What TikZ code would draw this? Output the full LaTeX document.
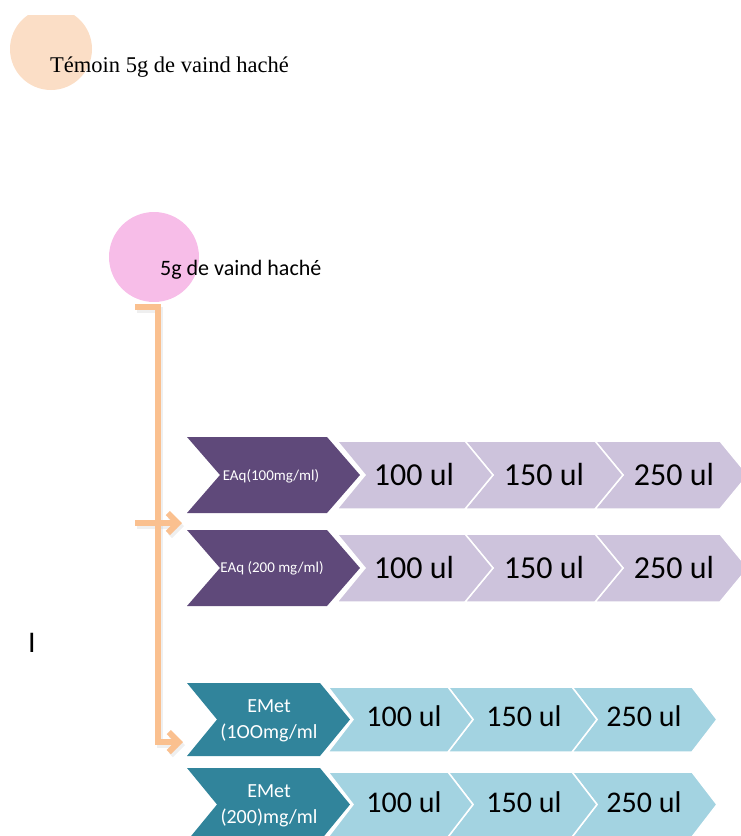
\documentclass[tikz,border=0pt]{standalone}
\usepackage{fontspec}
\setmainfont{Liberation Serif}
\newfontfamily\calfont{Carlito}
\usetikzlibrary{arrows.meta}
\definecolor{peach}{HTML}{FBDEC6}
\definecolor{pinkc}{HTML}{F7BDE8}
\definecolor{conncol}{HTML}{FAC08F}
\definecolor{purpdark}{HTML}{5F497A}
\definecolor{purplight}{HTML}{CDC3DC}
\definecolor{tealdark}{HTML}{31849B}
\definecolor{teallight}{HTML}{A3D3E1}
\newcommand{\chev}[6]{\filldraw[#6] (#1,#2-#4) -- ++(#3,0) -- ++(#5,#4) -- ++(-#5,#4) -- ++(-#3,0) -- ++(#5,-#4) -- cycle;}
\tikzset{
  lightp/.style={fill=purplight,draw=white,line width=1.5pt,line join=miter},
  lightt/.style={fill=teallight,draw=white,line width=1.5pt,line join=miter},
  darkp/.style={fill=purpdark,draw=none},
  darkt/.style={fill=tealdark,draw=none},
  bigp/.style={font=\calfont\fontsize{32}{36}\selectfont,inner sep=0pt,text=black},
  bigt/.style={font=\calfont\fontsize{30}{34}\selectfont,inner sep=0pt,text=black},
  smallp/.style={font=\calfont\fontsize{15}{17}\selectfont,text=white,inner sep=0pt},
  smallt/.style={font=\calfont\fontsize{20}{26}\selectfont,text=white,inner sep=0pt,align=center},
  conn/.style={draw=conncol,line width=6pt,line join=miter},
  connshadow/.style={draw=black!25,line width=6pt,line join=miter,opacity=0.25},
  tip/.style={-{Straight Barb[length=10pt,width=20pt]}}
}
\begin{document}
\begin{tikzpicture}[x=1pt,y=-1pt]
\useasboundingbox (0,0) rectangle (741,836);
% top circle
\begin{scope}
\clip (0,15) rectangle (200,100);
\fill[peach] (51,49) circle (41);
\end{scope}
\node[anchor=base west,inner sep=0pt,font=\fontsize{22.5}{27}\selectfont] (temoin) at (50,72) {Témoin 5g de vaind haché};
% pink circle
\fill[pinkc] (154,257) circle (45);
\node[anchor=base west,inner sep=0pt,font=\calfont\fontsize{22}{26}\selectfont] (sample) at (160,275) {5g de vaind haché};
% connectors
\coordinate (c0) at (135,307);
\coordinate (cv) at (158,307);
\coordinate (ce) at (183,742);
\coordinate (m0) at (135,523);
\coordinate (m1) at (182,523);
\draw[connshadow,tip] ([shift={(2,3)}]c0) -- ([shift={(2,3)}]cv) |- ([shift={(2,3)}]ce);
\draw[connshadow,tip] ([shift={(2,3)}]m0) -- ([shift={(2,3)}]m1);
\draw[conn,tip] (c0) -- (cv) |- (ce);
\draw[conn,tip] (m0) -- (m1);
% purple row 1
\chev{595}{475}{125}{34}{28}{lightp}
\chev{465}{475}{130}{34}{28}{lightp}
\chev{337}{475}{128}{34}{28}{lightp}
\chev{187}{475}{140}{38}{33}{darkp}
% purple row 2
\chev{595}{568}{125}{34}{28}{lightp}
\chev{465}{568}{130}{34}{28}{lightp}
\chev{337}{568}{128}{34}{28}{lightp}
\chev{187}{568}{140}{38}{33}{darkp}
% teal row 1
\chev{572}{719.5}{120}{32.5}{25}{lightt}
\chev{448}{719.5}{124}{32.5}{25}{lightt}
\chev{328}{719.5}{120}{32.5}{25}{lightt}
\chev{187}{719.5}{133}{36.5}{30}{darkt}
% teal row 2
\chev{572}{804.5}{120}{32.5}{25}{lightt}
\chev{448}{804.5}{124}{32.5}{25}{lightt}
\chev{328}{804.5}{120}{32.5}{25}{lightt}
\chev{187}{804.5}{133}{36.5}{30}{darkt}
% labels
\node[smallp] (eaq1) at (271,476) {EAq(100mg/ml)};
\node[smallp] (eaq2) at (272,568) {EAq (200 mg/ml)};
\node[bigp] (p11) at (414,475) {100 ul};
\node[bigp] (p12) at (544,475) {150 ul};
\node[bigp] (p13) at (674,475) {250 ul};
\node[bigp] (p21) at (414,567) {100 ul};
\node[bigp] (p22) at (544,567) {150 ul};
\node[bigp] (p23) at (674,567) {250 ul};
\node[smallt] (emet1) at (269,721) {EMet\\(1OOmg/ml};
\node[smallt] (emet2) at (269,806) {EMet\\(200)mg/ml};
\node[bigt] (t11) at (404,716) {100 ul};
\node[bigt] (t12) at (524,716) {150 ul};
\node[bigt] (t13) at (644,716) {250 ul};
\node[bigt] (t21) at (404,802) {100 ul};
\node[bigt] (t22) at (524,802) {150 ul};
\node[bigt] (t23) at (644,802) {250 ul};
\node[font=\calfont\fontsize{30}{34}\selectfont,inner sep=0pt] (bar) at (32,643) {I};
\end{tikzpicture}
\end{document}
